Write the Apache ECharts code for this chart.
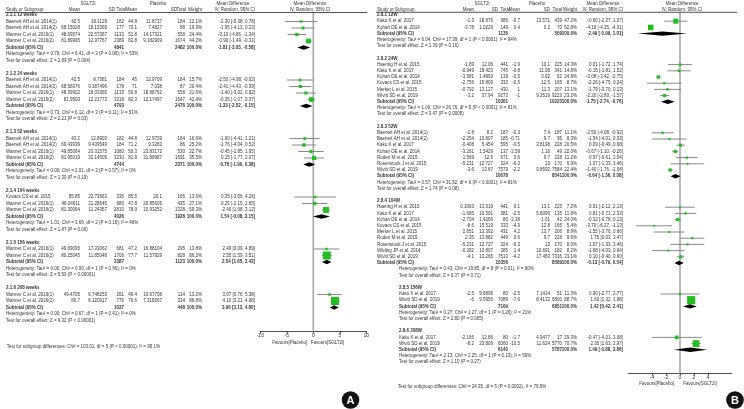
<!DOCTYPE html>
<html><head><meta charset="utf-8">
<script src="https://cdn.jsdelivr.net/npm/echarts@6/dist/echarts.min.js"></script>
<style>html,body{margin:0;padding:0;background:#fff}#c{width:744px;height:409px}</style>
</head><body><div id="c"></div>
<script>
// ================= Panel A data =================
const A_groups = ['2.1.1 12 weeks','2.1.2 24 weeks','2.1.3 52 weeks','2.1.4 104 weeks','2.1.5 156 weeks','2.1.6 208 weeks'];
const A_groupOf = [0,0,0,0, 1,1,1,1, 2,2,2,2, 3,3,3, 4,4, 5,5];
const A_study = ['Baenett AH et al. 2014(1)','Baenett AH et al. 2014(2)','Wanner C et al, 2016(1)','Wanner C et al, 2016(2)',
  'Baenett AH et al. 2014(1)','Baenett AH et al. 2014(2)','Wanner C et al, 2016(1)','Wanner C et al, 2016(2)',
  'Baenett AH et al. 2014(1)','Baenett AH et al. 2014(2)','Wanner C et al, 2016(1)','Wanner C et al, 2016(2)',
  'Kovacs CS et al. 2015','Wanner C et al, 2016(1)','Wanner C et al, 2016(2)',
  'Wanner C et al, 2016(1)','Wanner C et al, 2016(2)',
  'Wanner C et al, 2016(1)','Wanner C et al, 2016(2)'];
const A_tMean = [42.5,68.15028,48.69974,81.89995, 42.5,68.58976,48.39902,81.9503, 43.2,69.43939,49.85064,81.95019, 85.85,48.04611,81.30064, 49.69095,80.25045, 49.4705,80.7];
const A_tSD = [18.1129,18.15365,22.57387,12.97767, 8.7381,9.387496,18.03365,12.21773, 12.8903,9.439549,23.31575,32.14505, 22.73663,21.28545,11.24367, 17.33062,11.85048, 6.748253,6.120917];
const A_tN = [182,177,1133,2389, 184,178,1133,3318, 182,184,1080,3230, 336,880,2810, 681,1706, 261,776];
const A_pMean = [44.8,70.1,51.8,82.8, 45,71,50.8,82.3, 44.8,71.2,50.3,81.8, 85.5,47.8,78.9, 47.2,77.7, 46.4,76.6];
const A_pSD = [11.8737,7.4827,14.17321,9.182909, 12.9709,7.038,18.88762,12.17497, 12.9709,9.3283,23.83172,31.88987, 20.1,20.85605,10.93252, 16.88104,11.57929, 10.67708,7.318267];
const A_pN = [184,88,558,1674, 184,87,558,1647, 184,86,530,1591, 165,435,1328, 295,828, 114,334];
const A_weight = [12.1,19.3,24.4,44.2, 15.7,20.4,21.6,42.4, 16.6,25.2,22.7,35.5, 13.6,27.1,59.3, 13.8,86.2, 13.2,86.8];
const A_md = [-2.30,-1.95,-3.10,-0.90, -2.50,-2.41,-1.40,-0.35, -1.60,-1.76,-0.45,0.15, 0.35,0.25,2.40, 2.49,2.55, 3.07,4.10];
const A_lo = [-5.38,-4.13,-4.86,-1.49, -4.98,-4.43,-3.32,-1.07, -4.41,-4.04,-2.85,-1.77, -3.56,-2.15,1.68, 0.09,1.59, 0.76,3.21];
const A_hi = [0.78,0.23,-1.34,-0.31, -0.02,-0.39,0.52,0.37, 1.21,0.52,1.95,2.07, 4.26,2.65,3.12, 4.89,3.51, 5.38,4.98];
const A_subTN = [4841,4793,4744,4026,2387,1037];
const A_subPN = [2482,2476,2371,1928,1123,448];
const A_subMD = [-1.81,-1.33,-0.76,1.54,2.54,3.96];
const A_subLo = [-3.03,-2.52,-1.90,-0.08,1.65,3.13];
const A_subHi = [-0.58,-0.15,0.38,3.15,3.43,4.80];
const A_het = ['Heterogeneity: Tau² = 0.79; Chi² = 6.41, df = 3 (P = 0.09); I² = 53%',
  'Heterogeneity: Tau² = 0.73; Chi² = 6.12, df = 3 (P = 0.11); I² = 51%',
  'Heterogeneity: Tau² = 0.00; Chi² = 2.01, df = 3 (P = 0.57); I² = 0%',
  'Heterogeneity: Tau² = 1.01; Chi² = 3.69, df = 2 (P = 0.16); I² = 46%',
  'Heterogeneity: Tau² = 0.00; Chi² = 0.00, df = 1 (P = 0.96); I² = 0%',
  'Heterogeneity: Tau² = 0.00; Chi² = 0.67, df = 1 (P = 0.41); I² = 0%'];
const A_overall = ['Z = 2.89 (P = 0.004)','Z = 2.21 (P = 0.03)','Z = 1.30 (P = 0.19)','Z = 1.87 (P = 0.06)','Z = 5.59 (P < 0.00001)','Z = 9.32 (P < 0.00001)'];
const A_subgroupTest = 'Test for subgroup differences: Chi² = 103.01, df = 5 (P < 0.00001), I² = 95.1%';
const A_ticks = [-10,-5,0,5,10];

// ================= Panel B data =================
const B_groups = ['2.8.1 12W','2.8.2 24W','2.8.3 52W','2.8.4 104W','2.8.5 156W','2.8.6 208W'];
const B_groupOf = [0,0, 1,1,1,1,1,1, 2,2,2,2,2,2,2, 3,3,3,3,3,3,3,3,3, 4,4, 5,5];
const B_study = ['Kaku K et al. 2017','Kohan DE et al. 2014',
  'Haering H et al. 2015','Kaku K et al. 2017','Kohan DE et al. 2014','Kovacs CS et al. 2015','Merker L et al. 2015','Wivitt SD et al, 2019',
  'Baenett AH et al. 2014(1)','Baenett AH et al. 2014(2)','Kaku K et al. 2017','Kohan DE et al. 2014','Roden M et al. 2015','Rosenstock J et al. 2015','Wivitt SD et al, 2019',
  'Haering H et al. 2015','Kaku K et al. 2017','Kohan DE et al. 2014','Kovacs CS et al. 2015','Merker L et al. 2015','Roden M et al. 2015','Rosenstock J et al. 2015','Wilding JP et al, 2014','Wivitt SD et al, 2019',
  'Kaku K et al. 2017','Wivitt SD et al, 2019',
  'Kaku K et al. 2017','Wivitt SD et al, 2019'];
const B_tMean = [-1.3,-3.78, -1.89,-0.949,-3.581,-2.756,-0.792,-3.2, -2.8,-2.254,-0.408,-3.261,1.569,-5.231,-3.6, 0.1063,-1.685,-2.704,-8.6,2.651,2.35,-5.231,-0.282,-4.1, -2.5,-6, -2.166,-8.2];
const B_tSD = [18.876,1.0229, 12.06,18.423,1.4893,15.809,13.127,37.94, 8.2,10.807,5.454,1.5429,12.5,12.727,13.67, 13.519,10.501,1.4269,15.519,13.392,13.882,12.727,10.807,13.265, 9.6895,9.5956, 12.86,23.806];
const B_tN = [986,149, 441,745,139,333,430,9273, 187,185,595,137,671,324,7579, 441,381,80,333,431,449,324,385,7513, 80,7089, 80,6060];
const B_pMean = [-0.7,0.4, -1.9,-0.8,-0.5,-0.5,1,-1, -0.3,-0.71,-0.5,-2.59,0.6,-6.3,-2.2, 0.1,-2.5,-2.38,-4.9,4.2,0.6,-6.3,1.4,-4.2, -2.5,-7.6, -1.7,-10.5];
const B_pSD = [13.571,0.2, 10.1,11.08,0.92,12.5,11.3,9.3519, 7.4,9.7,3.8198,1.16,9.7,13,9.8592, 13.1,5.8095,1.01,12.8,13.7,9.7,13,10.691,17.453, 7.1414,8.4132, 4.9477,11.624];
const B_pN = [439,70, 225,341,62,165,207,9223, 187,95,228,49,228,170,7584, 225,135,42,165,206,228,170,182,7316, 51,6800, 17,5770];
const B_weight = [47.2,52.8, 14.3,14.8,24.8,8.7,13.1,23.2, 11.1,8.3,20.5,22.0,11.2,6.9,22.4, 7.2,11.8,24.0,5.4,8.9,9.6,8.0,8.2,23.1, 11.3,88.7, 29.3,70.7];
const B_md = [-0.60,-4.18, 0.01,-0.15,-3.08,-2.26,-1.79,-2.20, -2.50,-1.54,0.09,-0.67,0.97,1.07,-1.40, 0.01,0.81,-0.32,-3.70,-1.55,1.75,1.07,-1.68,0.10, 0.00,1.60, -0.47,2.30];
const B_lo = [-2.27,-4.35, -1.72,-1.81,-3.42,-4.75,-3.70,-2.83, -4.08,-4.01,-0.49,-1.10,-0.61,-1.33,-1.76, -2.12,-0.71,-0.78,-6.27,-3.76,0.03,-1.33,-4.03,-0.40, -2.77,1.32, -4.01,1.63];
const B_hi = [1.07,-4.01, 1.74,1.52,-2.75,0.24,0.13,-1.57, -0.92,0.93,0.68,-0.26,2.54,3.46,-1.04, 2.13,2.33,0.13,-1.13,0.66,3.47,3.46,0.64,0.60, 2.77,1.88, 3.08,2.97];
const B_subTN = [1135,10361,10678,10356,7169,6140];
const B_subPN = [509,10223,8541,8589,6851,5787];
const B_subMD = [-2.49,-1.75,-0.64,-0.13,1.42,1.49];
const B_subLo = [-5.99,-2.74,-1.36,-0.79,0.42,-0.88];
const B_subHi = [1.01,-0.76,0.08,0.54,2.41,3.86];
const B_het = ['Heterogeneity: Tau² = 6.04; Chi² = 17.39, df = 1 (P < 0.0001); I² = 94%',
  'Heterogeneity: Tau² = 1.00; Chi² = 26.76, df = 5 (P < 0.0001); I² = 81%',
  'Heterogeneity: Tau² = 0.57; Chi² = 31.52, df = 6 (P < 0.0001); I² = 81%',
  'Heterogeneity: Tau² = 0.43; Chi² = 19.85, df = 8 (P = 0.01); I² = 60%',
  'Heterogeneity: Tau² = 0.27; Chi² = 1.27, df = 1 (P = 0.26); I² = 21%',
  'Heterogeneity: Tau² = 2.13; Chi² = 2.25, df = 1 (P = 0.13); I² = 56%'];
const B_overall = ['Z = 1.39 (P = 0.16)','Z = 3.47 (P = 0.0005)','Z = 1.74 (P = 0.08)','Z = 0.37 (P = 0.71)','Z = 2.80 (P = 0.005)','Z = 1.10 (P = 0.27)'];
const B_subgroupTest = 'Test for subgroup differences: Chi² = 24.35, df = 5 (P = 0.0002), I² = 79.5%';
const B_ticks = [-4,-2,0,2,4];

// shared labels
const LBL = {t:'SGLT2i', p:'Placebo', md:'Mean Difference', iv:'IV, Random, 95% CI', study:'Study or Subgroup',
  mean:'Mean', sd:'SD', total:'Total', weight:'Weight', sub:'Subtotal (95% CI)', overall:'Test for overall effect: ',
  favL:'Favours[Placebo]', favR:'Favours[SGLT2i]'};

// ================= Layout (not data) =================
const FONT = '"Liberation Sans", Arial, sans-serif';
const FS = 4.5;
const TXT = '#333';
const LA = {
  tableGrid:{left:0, top:2, width:370, height:351}, tMin:0, tMax:370, rMin:-2, rMaxT:52,
  forestGrid:{left:260.3, top:2, width:106, height:329.55}, rMaxF:48.7, xMin:-10, xMax:10,
  hr1:-1.8, hr2:-0.77, lineR:-0.38, lineX:[5,367],
  hT:88, hP:158, hMD:233, hPlot:310,
  study:6, study2:6, shiftRow:999, tMean:80, tSD:107, tN:124, pMean:137, pSD:162, pN:185, w:202, ci:255,
  hSD1:115, hTot1:126, hSD2:177, hTot2:186,
  favR:50.4, favX:[289.7,327.5], subR:51, subX:6.7, tickLab:5
};
const LB = {
  tableGrid:{left:370, top:2.6, width:374, height:396.8}, tMin:370, tMax:744, rMin:-2, rMaxT:62,
  forestGrid:{left:628.2, top:2.6, width:103.6, height:370.76}, rMaxF:57.8, xMin:-7.4, xMax:7.4,
  hr1:-1.89, hr2:-0.81, lineR:-0.44, lineX:[376,737],
  hT:482, hP:537, hMD:603, hPlot:682,
  study:377, study2:399, shiftRow:41, tMean:474, tSD:493, tN:508, pMean:520, pSD:550, pN:562, w:577, ci:623,
  hSD1:498, hTot1:510, hSD2:550, hTot2:562,
  favR:59.4, favX:[656.7,700], subR:60, subX:398, tickLab:5
};

function ciStr(m,l,h){return m.toFixed(2)+' ['+l.toFixed(2)+', '+h.toFixed(2)+']';}

function buildPanel(D, L, gi, ticks) {
  const T = [];
  const add = (x, r, t, a, b) => T.push({x, r, t:String(t), a:a||'left', b:!!b});
  add(L.hT, L.hr1, LBL.t, 'center'); add(L.hP, L.hr1, LBL.p, 'center');
  add(L.hMD, L.hr1, LBL.md, 'center'); add(L.hPlot, L.hr1, LBL.md, 'center');
  add(L.study, L.hr2, LBL.study); add(L.tMean, L.hr2, LBL.mean, 'right'); add(L.hSD1, L.hr2, LBL.sd, 'right');
  add(L.hTot1, L.hr2, LBL.total, 'right'); add(L.pMean, L.hr2, LBL.mean, 'right'); add(L.hSD2, L.hr2, LBL.sd, 'right');
  add(L.hTot2, L.hr2, LBL.total, 'right'); add(L.w, L.hr2, LBL.weight, 'right'); add(L.ci, L.hr2, LBL.iv, 'right');
  add(L.hPlot, L.hr2, LBL.iv, 'center');
  const ci = [], dia = [];
  let r = 0;
  const sx = () => r >= L.shiftRow ? L.study2 : L.study;
  D.groups.forEach((g, k) => {
    add(sx(), r, g, 'left', true); r++;
    D.study.forEach((s, i) => {
      if (D.groupOf[i] !== k) return;
      add(sx(), r, s);
      add(L.tMean, r, D.tMean[i], 'right'); add(L.tSD, r, D.tSD[i], 'right'); add(L.tN, r, D.tN[i], 'right');
      add(L.pMean, r, D.pMean[i], 'right'); add(L.pSD, r, D.pSD[i], 'right'); add(L.pN, r, D.pN[i], 'right');
      add(L.w, r, D.weight[i].toFixed(1)+'%', 'right'); add(L.ci, r, ciStr(D.md[i], D.lo[i], D.hi[i]), 'right');
      ci.push([D.md[i], r, D.lo[i], D.hi[i], D.weight[i]]);
      r++;
    });
    add(sx(), r, LBL.sub, 'left', true); add(L.tN, r, D.subTN[k], 'right', true); add(L.pN, r, D.subPN[k], 'right', true);
    add(L.w, r, '100.0%', 'right', true); add(L.ci, r, ciStr(D.subMD[k], D.subLo[k], D.subHi[k]), 'right', true);
    dia.push([D.subMD[k], r, D.subLo[k], D.subHi[k]]); r++;
    add(sx(), r, D.het[k]); r++;
    add(sx(), r, LBL.overall + D.overall[k]); r++;
    r++;
  });
  add(L.favX[0], L.favR, LBL.favL, 'center'); add(L.favX[1], L.favR, LBL.favR, 'center');
  add(L.subX, L.subR, D.subgroupTest);

  const tI = gi*2, fI = gi*2+1;
  const grids = [Object.assign({outerBoundsMode:'none'}, L.tableGrid), Object.assign({outerBoundsMode:'none'}, L.forestGrid)];
  const xAxes = [
    {gridIndex:tI, type:'value', min:L.tMin, max:L.tMax, show:false},
    {gridIndex:fI, type:'value', min:L.xMin, max:L.xMax, position:'bottom',
     axisLine:{show:true, onZero:false, lineStyle:{color:'#222', width:0.8}},
     axisTick:{show:true, length:2, customValues:ticks, lineStyle:{color:'#222', width:0.8}},
     axisLabel:{fontSize:L.tickLab, margin:2, color:TXT, fontFamily:FONT, customValues:ticks},
     splitLine:{show:false}}
  ];
  const yAxes = [
    {gridIndex:tI, type:'value', inverse:true, min:L.rMin, max:L.rMaxT, show:false},
    {gridIndex:fI, type:'value', inverse:true, min:L.rMin, max:L.rMaxF, show:false}
  ];
  const series = [
    {type:'line', xAxisIndex:fI, yAxisIndex:fI, data:[[0, L.lineR],[0, L.rMaxF]], symbol:'none', silent:true,
     lineStyle:{color:'#a8a8a8', width:1.6}, z:1},
    {type:'line', xAxisIndex:tI, yAxisIndex:tI, data:[[L.lineX[0], L.lineR],[L.lineX[1], L.lineR]], symbol:'none', silent:true,
     lineStyle:{color:'#222', width:0.8}, z:2},
    {type:'custom', xAxisIndex:fI, yAxisIndex:fI, data:ci, silent:true, z:3,
     renderItem:(p, api) => {
       const m=api.value(0), rr=api.value(1), lo=api.value(2), hi=api.value(3), w=api.value(4);
       const a=api.coord([lo,rr]), b=api.coord([hi,rr]), c=api.coord([m,rr]);
       const s = 1.5 + 0.075*w;
       return {type:'group', children:[
         {type:'line', shape:{x1:a[0], y1:a[1], x2:b[0], y2:b[1]}, style:{stroke:'#7a7a7a', lineWidth:0.9}},
         {type:'rect', shape:{x:c[0]-s/2, y:c[1]-s/2, width:s, height:s}, style:{fill:'#1fc01f'}}
       ]};
     }},
    {type:'custom', xAxisIndex:fI, yAxisIndex:fI, data:dia, silent:true, z:3,
     renderItem:(p, api) => {
       const rr=api.value(1);
       const c=api.coord([api.value(0),rr]), l=api.coord([api.value(2),rr]), h=api.coord([api.value(3),rr]);
       const hh = 2.2;
       return {type:'polygon', shape:{points:[[l[0],c[1]],[c[0],c[1]-hh],[h[0],c[1]],[c[0],c[1]+hh]]}, style:{fill:'#000'}};
     }},
    {type:'custom', xAxisIndex:tI, yAxisIndex:tI, data:T.map((o,i)=>[o.x, o.r, i]), silent:true, z:4,
     renderItem:(p, api) => {
       const o = T[api.value(2)];
       const c = api.coord([o.x, o.r]);
       return {type:'text', x:c[0], y:c[1], style:{text:o.t, fill:TXT,
         font:(o.b?'bold ':'')+FS+'px '+FONT, align:o.a, verticalAlign:'middle'}};
     }}
  ];
  return {grids, xAxes, yAxes, series};
}

const DA = {groups:A_groups, groupOf:A_groupOf, study:A_study, tMean:A_tMean, tSD:A_tSD, tN:A_tN, pMean:A_pMean, pSD:A_pSD, pN:A_pN,
  weight:A_weight, md:A_md, lo:A_lo, hi:A_hi, subTN:A_subTN, subPN:A_subPN, subMD:A_subMD, subLo:A_subLo, subHi:A_subHi,
  het:A_het, overall:A_overall, subgroupTest:A_subgroupTest};
const DB = {groups:B_groups, groupOf:B_groupOf, study:B_study, tMean:B_tMean, tSD:B_tSD, tN:B_tN, pMean:B_pMean, pSD:B_pSD, pN:B_pN,
  weight:B_weight, md:B_md, lo:B_lo, hi:B_hi, subTN:B_subTN, subPN:B_subPN, subMD:B_subMD, subLo:B_subLo, subHi:B_subHi,
  het:B_het, overall:B_overall, subgroupTest:B_subgroupTest};

const PA = buildPanel(DA, LA, 0, A_ticks);
const PB = buildPanel(DB, LB, 1, B_ticks);

const chart = echarts.init(document.getElementById('c'), null, {renderer:'canvas'});
chart.setOption({
  animation:false,
  backgroundColor:'#fff',
  grid:[...PA.grids, ...PB.grids],
  xAxis:[...PA.xAxes, ...PB.xAxes],
  yAxis:[...PA.yAxes, ...PB.yAxes],
  series:[...PA.series, ...PB.series],
  graphic:[
    {type:'circle', shape:{cx:350.5, cy:400, r:8.8}, style:{fill:'#111'}},
    {type:'text', x:350.5, y:400.5, style:{text:'A', fill:'#fff', font:'bold 11px '+FONT, align:'center', verticalAlign:'middle'}},
    {type:'circle', shape:{cx:735, cy:400, r:8.8}, style:{fill:'#111'}},
    {type:'text', x:735, y:400.5, style:{text:'B', fill:'#fff', font:'bold 11px '+FONT, align:'center', verticalAlign:'middle'}}
  ]
});
</script></body></html>
